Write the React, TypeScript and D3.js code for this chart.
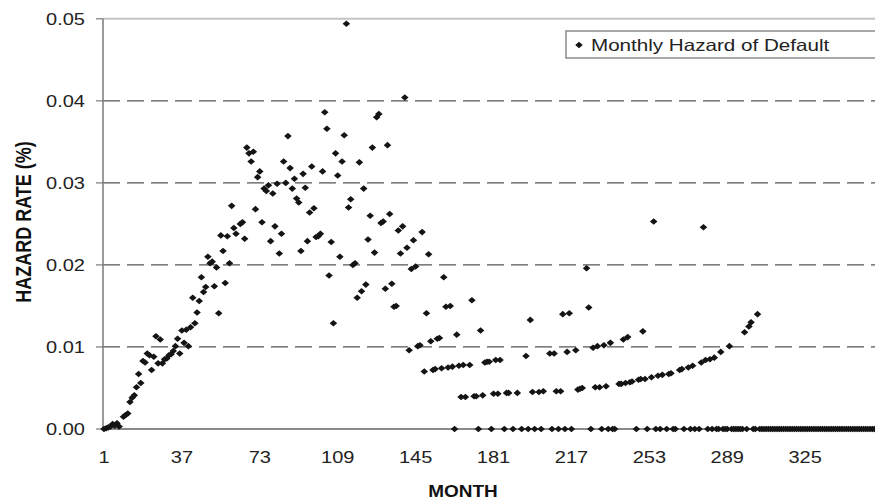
import React from 'react';
import * as d3 from 'd3';

// Month index of each observation
const months = [
  1, 2, 3, 4, 5, 6, 7, 8, 10, 11, 12, 13, 14, 15, 16, 17, 18, 19, 20,
  21, 22, 23, 24, 25, 26, 27, 28, 29, 30, 31, 32, 33, 34, 35, 36, 37, 38, 39, 40,
  41, 42, 43, 44, 45, 46, 47, 48, 49, 50, 51, 52, 53, 54, 55, 56, 57, 58, 59, 60,
  61, 62, 64, 65, 66, 67, 68, 69, 70, 71, 72, 73, 74, 75, 76, 77, 78, 79, 80,
  81, 82, 83, 84, 85, 86, 87, 88, 89, 90, 91, 92, 93, 94, 95, 96, 97, 98, 99, 100,
  101, 102, 103, 104, 105, 106, 107, 108, 109, 110, 111, 112, 113, 114, 115, 116, 117, 118, 119, 120,
  121, 122, 123, 124, 125, 126, 127, 128, 129, 130, 131, 132, 133, 134, 135, 136, 137, 138, 139, 140,
  141, 142, 143, 144, 145, 146, 147, 148, 149, 150, 151, 152, 153, 154, 155, 156, 157, 158, 159, 160,
  161, 162, 163, 164, 165, 166, 167, 168, 170, 171, 172, 173, 174, 175, 176, 177, 178, 179, 180,
  181, 182, 183, 184, 186, 187, 188, 190, 192, 194, 196, 197, 198, 199, 200,
  202, 203, 204, 207, 208, 209, 210, 211, 212, 213, 214, 215, 216, 217, 219, 220,
  221, 222, 224, 225, 226, 227, 228, 229, 230, 231, 232, 233, 234, 235, 236, 237, 239, 240,
  241, 242, 243, 244, 245, 247, 248, 249, 250, 251, 252, 254, 255, 256, 257, 258, 259,
  261, 262, 263, 264, 265, 267, 268, 269, 271, 272, 273, 274, 276, 277, 278, 279, 280,
  281, 282, 283, 284, 285, 286, 287, 288, 289, 290, 291, 292, 293, 294, 295, 296, 297, 298, 299, 300,
  301, 302, 303, 304, 305, 306, 307, 308, 309, 310, 311, 312, 313, 314, 315, 316, 317, 318, 319, 320,
  321, 322, 323, 324, 325, 326, 327, 328, 329, 330, 331, 332, 333, 334, 335, 336, 337, 338, 339, 340,
  341, 342, 343, 344, 345, 346, 347, 348, 349, 350, 351, 352, 353, 354, 355, 356, 357, 358, 359, 360,
];

// Monthly hazard of default (%), one value per entry of `months`
const hazard = [
  0, 0.0001, 0.0002, 0.0003, 0.0006, 0.0004, 0.0007, 0.0003, 0.0015, 0.0017, 0.0019, 0.0033, 0.0038, 0.0041, 0.0051, 0.0067, 0.0056, 0.0083, 0.0081,
  0.0092, 0.0090, 0.0072, 0.0088, 0.0113, 0.0080, 0.0109, 0.0080, 0.0085, 0.0086, 0.0090, 0.0091, 0.0095, 0.0101, 0.0110, 0.0092, 0.0120, 0.0105, 0.0121, 0.0101,
  0.0124, 0.0160, 0.0129, 0.0142, 0.0156, 0.0185, 0.0167, 0.0173, 0.0210, 0.0202, 0.0204, 0.0174, 0.0197, 0.0141, 0.0236, 0.0217, 0.0178, 0.0235, 0.0202, 0.0272,
  0.0245, 0.0238, 0.0250, 0.0252, 0.0232, 0.0343, 0.0336, 0.0326, 0.0338, 0.0268, 0.0307, 0.0314, 0.0252, 0.0293, 0.0290, 0.0297, 0.0229, 0.0287, 0.0247,
  0.0299, 0.0214, 0.0238, 0.0326, 0.0300, 0.0357, 0.0318, 0.0293, 0.0305, 0.0281, 0.0276, 0.0217, 0.0311, 0.0294, 0.0229, 0.0264, 0.0320, 0.0269, 0.0234, 0.0235,
  0.0238, 0.0314, 0.0386, 0.0366, 0.0187, 0.0228, 0.0129, 0.0336, 0.0309, 0.0210, 0.0326, 0.0358, 0.0494, 0.0270, 0.0280, 0.0200, 0.0202, 0.0160, 0.0325, 0.0168,
  0.0293, 0.0176, 0.0231, 0.0260, 0.0343, 0.0215, 0.0380, 0.0384, 0.0251, 0.0253, 0.0171, 0.0346, 0.0262, 0.0177, 0.0149, 0.0150, 0.0242, 0.0214, 0.0247, 0.0404,
  0.0221, 0.0096, 0.0195, 0.0230, 0.0198, 0.0101, 0.0102, 0.0240, 0.0070, 0.0141, 0.0213, 0.0107, 0.0072, 0.0073, 0.0110, 0.0111, 0.0074, 0.0185, 0.0149, 0.0075,
  0.0150, 0.0076, 0, 0.0115, 0.0077, 0.0039, 0.0078, 0.0039, 0.0078, 0.0157, 0.0040, 0.0040, 0, 0.0120, 0.0041, 0.0081, 0.0082, 0.0082, 0,
  0.0043, 0.0084, 0.0043, 0.0084, 0, 0.0044, 0.0044, 0, 0.0044, 0, 0.0089, 0, 0.0133, 0.0045, 0,
  0.0045, 0, 0.0046, 0.0092, 0, 0.0092, 0.0046, 0, 0.0046, 0.0140, 0, 0.0094, 0.0141, 0, 0.0096, 0.0048,
  0.0049, 0.0050, 0.0196, 0.0148, 0, 0.0099, 0.0051, 0.0101, 0.0051, 0, 0.0102, 0.0052, 0, 0.0105, 0, 0, 0.0055, 0.0055,
  0.0109, 0.0056, 0.0112, 0.0057, 0.0058, 0, 0.0060, 0.0061, 0.0119, 0.0061, 0, 0.0063, 0.0253, 0, 0.0065, 0, 0.0066,
  0, 0.0067, 0.0068, 0, 0, 0.0072, 0.0073, 0, 0.0075, 0, 0.0077, 0, 0, 0.0081, 0.0246, 0.0084, 0,
  0.0085, 0, 0.0087, 0, 0, 0.0094, 0, 0, 0, 0.0101, 0, 0, 0, 0, 0, 0, 0.0118, 0, 0.0125, 0.0130,
  0, 0, 0.0140, 0, 0, 0, 0, 0, 0, 0, 0, 0, 0, 0, 0, 0, 0, 0, 0, 0,
  0, 0, 0, 0, 0, 0, 0, 0, 0, 0, 0, 0, 0, 0, 0, 0, 0, 0, 0, 0,
  0, 0, 0, 0, 0, 0, 0, 0, 0, 0, 0, 0, 0, 0, 0, 0, 0, 0, 0, 0,
];

const xTickLabels = [1, 37, 73, 109, 145, 181, 217, 253, 289, 325];
const yTickValues = [0, 0.01, 0.02, 0.03, 0.04, 0.05];
const gridValues = [0.01, 0.02, 0.03, 0.04];
const seriesName = 'Monthly Hazard of Default';
const xTitle = 'MONTH';
const yTitle = 'HAZARD RATE (%)';

const W = 875;
const H = 504;
const FONT = '"Liberation Sans", Arial, Helvetica, sans-serif';
const SX = 1.25; // horizontal stretch of the original raster

const diamondType = {
  draw(ctx: any, size: number) {
    const r = Math.sqrt(size) * 0.62;
    ctx.moveTo(0, -r);
    ctx.lineTo(r * 1.15, 0);
    ctx.lineTo(0, r);
    ctx.lineTo(-r * 1.15, 0);
    ctx.closePath();
  },
};

export default function App() {
  const x = d3.scaleLinear().domain([1, 360]).range([104, 880.9]);
  const y = d3.scaleLinear().domain([0, 0.05]).range([429, 18.8]);
  const diamond = d3.symbol(diamondType as any, 28)() as string;
  const fmt = d3.format('.2f');
  const points = months.map((m, i) => ({ m, v: hazard[i] }));
  const x0 = 103;
  const xEnd = W;

  return (
    <svg
      width={W}
      height={H}
      viewBox={`0 0 ${W} ${H}`}
      style={{ position: 'absolute', left: 0, top: 0, display: 'block', background: '#fff' }}
      fontFamily={FONT}
    >
      <rect x={0} y={0} width={W} height={H} fill="#fff" />
      {/* dashed gridlines */}
      {gridValues.map((g) => (
        <line
          key={g}
          x1={x0}
          x2={xEnd}
          y1={y(g)}
          y2={y(g)}
          stroke="#555"
          strokeWidth={1.2}
          strokeDasharray="17,7"
        />
      ))}
      {/* top border */}
      <line x1={x0} x2={xEnd} y1={y(0.05)} y2={y(0.05)} stroke="#c4c4c4" strokeWidth={2} />
      {/* y axis */}
      <line x1={x0} x2={x0} y1={y(0.05)} y2={y(0) + 1} stroke="#7a7a7a" strokeWidth={1.5} />
      {/* x axis */}
      <line x1={x0} x2={xEnd} y1={y(0)} y2={y(0)} stroke="#8a8a8a" strokeWidth={2} />
      {/* y ticks and labels */}
      {yTickValues.map((t) => (
        <g key={t}>
          <line x1={96} x2={x0} y1={y(t)} y2={y(t)} stroke="#7a7a7a" strokeWidth={1.2} />
          <text
            transform={`translate(85,${y(t) + 6}) scale(${SX},1)`}
            textAnchor="end"
            fontSize={16}
            fill="#222"
          >
            {fmt(t)}
          </text>
        </g>
      ))}
      {/* x tick labels */}
      {xTickLabels.map((t) => (
        <text
          key={t}
          transform={`translate(${x(t)},463) scale(${SX},1)`}
          textAnchor="middle"
          fontSize={16}
          fill="#222"
        >
          {t}
        </text>
      ))}
      {/* points */}
      <g fill="#141414">
        {points.map((p, i) => (
          <path key={i} d={diamond} transform={`translate(${x(p.m)},${y(p.v)})`} />
        ))}
      </g>
      {/* axis titles */}
      <text
        transform={`translate(463,497) scale(1.15,1)`}
        textAnchor="middle"
        fontSize={16.5}
        fontWeight="bold"
        fill="#111"
      >
        {xTitle}
      </text>
      <text
        transform={`translate(31,222) scale(${SX},1) rotate(-90)`}
        textAnchor="middle"
        fontSize={18}
        fontWeight="bold"
        fill="#111"
      >
        {yTitle}
      </text>
      {/* legend */}
      <rect x={566} y={31} width={330} height={27} fill="#fff" stroke="#7a7a7a" strokeWidth={1.3} />
      <path d={diamond} transform="translate(579,45)" fill="#141414" />
      <text transform={`translate(591,50.5) scale(${SX},1)`} fontSize={16.5} fill="#222">
        {seriesName}
      </text>
    </svg>
  );
}
